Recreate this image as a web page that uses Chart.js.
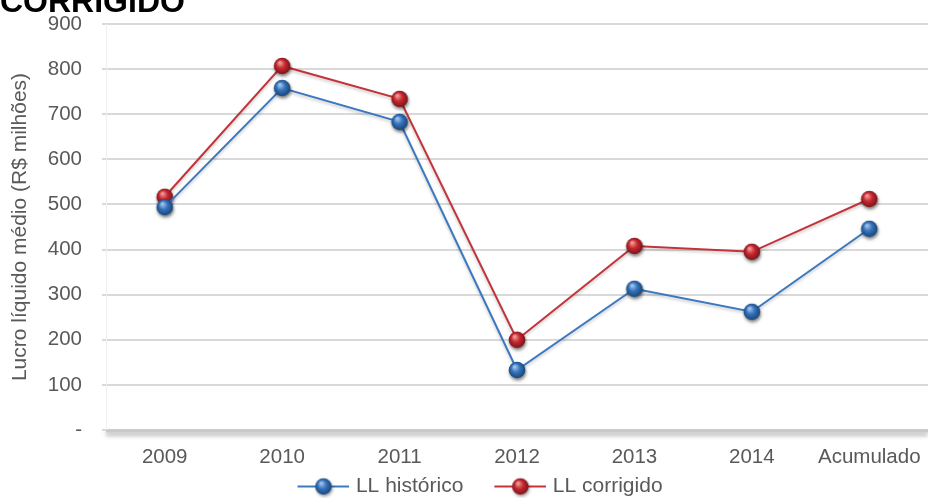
<!DOCTYPE html>
<html>
<head>
<meta charset="utf-8">
<script src="https://cdn.jsdelivr.net/npm/chart.js@4/dist/chart.umd.min.js"></script>
<style>
    html, body { margin: 0; padding: 0; background: #fff; }
    .wrap { position: relative; width: 928px; height: 498px; overflow: hidden; }
    .heading {
        position: absolute; left: 0; top: -15px;
        font: bold 32px "Liberation Sans", Arial, sans-serif; line-height: 32px;
        color: #000; white-space: nowrap;
    }
    canvas { position: absolute; left: 0; top: 0; }
</style>
</head>
<body>
<div class="wrap">
    <canvas id="chart" width="928" height="498"></canvas>
    <div class="heading">CORRIGIDO</div>
</div>
<script>
const categories = ['2009', '2010', '2011', '2012', '2013', '2014', 'Acumulado'];
const llHistorico = [494, 758, 683, 133, 313, 262, 446];
const llCorrigido = [517, 807, 734, 200, 408, 395, 512];
const yTicks = [0, 100, 200, 300, 400, 500, 600, 700, 800, 900];

const FONT = '"Liberation Sans", Arial, sans-serif';
const GREY_TEXT = '#595959';

const palette = {
    blue: { line: '#3b78c0', light: '#a9c8ee', base: '#3473bd', dark: '#16406f' },
    red: { line: '#c3343a', light: '#f3a0a0', base: '#c8282f', dark: '#6e1216' }
};

// legend key geometry: box width used by the legend, and the drawn key
const KEY_BOX = 75;
const KEY_W = KEY_BOX + 8;
const KEY_LINE = 52;

// glossy sphere, drawn once and used as the point style
const makeSphere = (c, withLine) => {
    const w = withLine ? KEY_W : 24;
    const h = 24;
    const cv = document.createElement('canvas');
    cv.width = w;
    cv.height = h;
    const g = cv.getContext('2d');
    let cx = w / 2;
    const cy = h / 2;
    if (withLine) {
        g.strokeStyle = c.line;
        g.lineWidth = 2;
        g.beginPath();
        g.moveTo(w - KEY_LINE, cy);
        g.lineTo(w, cy);
        g.stroke();
        cx = w - KEY_LINE / 2;
    }
    g.save();
    g.shadowColor = 'rgba(0,0,0,0.35)';
    g.shadowBlur = 3;
    g.shadowOffsetX = 1;
    g.shadowOffsetY = 2;
    const grad = g.createRadialGradient(cx - 2.5, cy - 3.5, 0.5, cx, cy, 9);
    grad.addColorStop(0, c.light);
    grad.addColorStop(0.45, c.base);
    grad.addColorStop(1, c.dark);
    g.fillStyle = grad;
    g.beginPath();
    g.arc(cx, cy, 8.3, 0, Math.PI * 2);
    g.fill();
    g.restore();
    return cv;
};

const blueDot = makeSphere(palette.blue, false);
const redDot = makeSphere(palette.red, false);
const blueKey = makeSphere(palette.blue, true);
const redKey = makeSphere(palette.red, true);

// soft shadow under the lines, thick bottom axis with its shadow
const decor = {
    id: 'decor',
    beforeDatasetsDraw(chart) {
        const ctx = chart.ctx;
        ctx.save();
        ctx.shadowColor = 'rgba(0,0,0,0.22)';
        ctx.shadowBlur = 3;
        ctx.shadowOffsetY = 2;
    },
    afterDatasetsDraw(chart) {
        chart.ctx.restore();
    },
    afterDraw(chart) {
        const { ctx, chartArea } = chart;
        ctx.save();
        ctx.shadowColor = 'rgba(0,0,0,0.35)';
        ctx.shadowBlur = 4;
        ctx.shadowOffsetY = 3;
        ctx.strokeStyle = '#c8c8c8';
        ctx.lineWidth = 3;
        ctx.beginPath();
        ctx.moveTo(chartArea.left, chartArea.bottom + 1);
        ctx.lineTo(chartArea.right, chartArea.bottom + 1);
        ctx.stroke();
        ctx.restore();
        ctx.save();
        ctx.strokeStyle = '#f0f0f0';
        ctx.lineWidth = 1;
        ctx.beginPath();
        ctx.moveTo(chartArea.left + 0.5, chartArea.top);
        ctx.lineTo(chartArea.left + 0.5, chartArea.bottom);
        ctx.stroke();
        ctx.restore();
    }
};

const chart = new Chart(document.getElementById('chart').getContext('2d'), {
    type: 'line',
    data: {
        labels: categories,
        datasets: [
            {
                label: 'LL histórico',
                data: llHistorico,
                borderColor: palette.blue.line,
                borderWidth: 2,
                pointStyle: blueDot,
                pointRadius: 9,
                fill: false,
                tension: 0
            },
            {
                label: 'LL corrigido',
                data: llCorrigido,
                borderColor: palette.red.line,
                borderWidth: 2,
                pointStyle: redDot,
                pointRadius: 9,
                fill: false,
                tension: 0
            }
        ]
    },
    options: {
        responsive: false,
        animation: false,
        layout: { autoPadding: false, padding: { top: 24, right: -5, left: 0, bottom: -9 } },
        plugins: {
            tooltip: { enabled: false },
            legend: {
                position: 'bottom',
                labels: {
                    usePointStyle: true,
                    pointStyleWidth: KEY_BOX,
                    padding: 4,
                    color: GREY_TEXT,
                    font: { family: FONT, size: 21 },
                    generateLabels(c) {
                        const items = Chart.defaults.plugins.legend.labels.generateLabels(c);
                        items[0].pointStyle = blueKey;
                        items[1].pointStyle = redKey;
                        return items;
                    }
                }
            }
        },
        scales: {
            x: {
                offset: true,
                grid: { display: false, drawTicks: false },
                border: { display: false },
                afterFit(scale) {
                    scale.height = 42;
                    scale.paddingLeft = 0;
                    scale.paddingRight = 0;
                },
                ticks: {
                    color: GREY_TEXT,
                    font: { family: FONT, size: 20.5 },
                    padding: 15,
                    maxRotation: 0
                }
            },
            y: {
                min: 0,
                max: 900,
                afterBuildTicks(scale) {
                    scale.ticks = yTicks.map(v => ({ value: v }));
                },
                afterFit(scale) {
                    scale.width = 106;
                    scale.paddingTop = 0;
                    scale.paddingBottom = 0;
                },
                grid: { color: '#d9d9d9', lineWidth: 2, tickLength: 4 },
                border: { display: false },
                ticks: {
                    color: GREY_TEXT,
                    font: { family: FONT, size: 20.5 },
                    padding: 20,
                    callback: v => (v === 0 ? '-' : v)
                },
                title: {
                    display: true,
                    text: 'Lucro líquido médio (R$ milhões)',
                    color: GREY_TEXT,
                    font: { family: FONT, size: 21 },
                    padding: { top: 8, bottom: 0 }
                }
            }
        }
    },
    plugins: [decor]
});
</script>
</body>
</html>
